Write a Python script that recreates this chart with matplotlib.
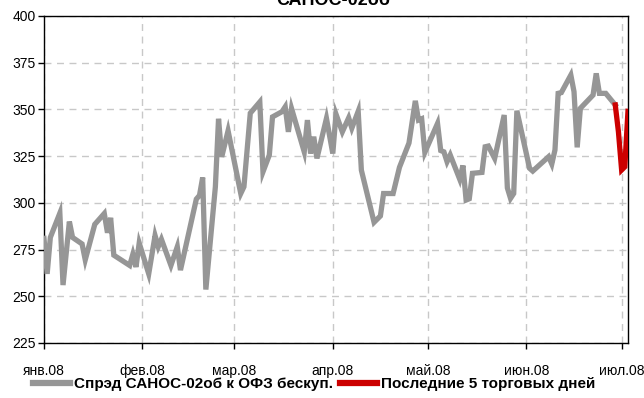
import numpy as np
import pandas as pd
import matplotlib
matplotlib.use("Agg")
import matplotlib.pyplot as plt
from matplotlib.lines import Line2D

plt.rcParams['font.family'] = ['Liberation Sans', 'DejaVu Sans']

# spread data
spread_dates = [
    "2008-01-01", "2008-01-02", "2008-01-03", "2008-01-06", "2008-01-07", "2008-01-09",
    "2008-01-10", "2008-01-13", "2008-01-14", "2008-01-17", "2008-01-20", "2008-01-21",
    "2008-01-22", "2008-01-23", "2008-01-28", "2008-01-29", "2008-01-30", "2008-01-31",
    "2008-02-03", "2008-02-05", "2008-02-06", "2008-02-07", "2008-02-10", "2008-02-12",
    "2008-02-13", "2008-02-18", "2008-02-19", "2008-02-20", "2008-02-21", "2008-02-24",
    "2008-02-25", "2008-02-26", "2008-02-28", "2008-03-03", "2008-03-04", "2008-03-06",
    "2008-03-09", "2008-03-10", "2008-03-12", "2008-03-13", "2008-03-16", "2008-03-17",
    "2008-03-18", "2008-03-19", "2008-03-23", "2008-03-24", "2008-03-25", "2008-03-26",
    "2008-03-27", "2008-03-30", "2008-04-01", "2008-04-02", "2008-04-04", "2008-04-06",
    "2008-04-07", "2008-04-09", "2008-04-10", "2008-04-14", "2008-04-16", "2008-04-17",
    "2008-04-20", "2008-04-22", "2008-04-25", "2008-04-27", "2008-04-28", "2008-04-29",
    "2008-04-30", "2008-05-04", "2008-05-05", "2008-05-06", "2008-05-07", "2008-05-08",
    "2008-05-11", "2008-05-12", "2008-05-13", "2008-05-14", "2008-05-15", "2008-05-18",
    "2008-05-19", "2008-05-20", "2008-05-22", "2008-05-25", "2008-05-26", "2008-05-27",
    "2008-05-28", "2008-05-29", "2008-06-02", "2008-06-03", "2008-06-08", "2008-06-09",
    "2008-06-10", "2008-06-11", "2008-06-12", "2008-06-15", "2008-06-16", "2008-06-17",
    "2008-06-18", "2008-06-22", "2008-06-23", "2008-06-24", "2008-06-26", "2008-06-29",
]
spread_values = [
    281, 262, 281.5, 294.5, 256, 290,
    281.5, 278, 269.5, 288.5, 294.3, 284,
    292, 272, 266.5, 272.5, 265.7, 278.5,
    262, 282.5, 276.5, 280.5, 266.5, 276.5,
    264, 302, 304, 313.6, 253.6, 308.6,
    345, 324.6, 338.6, 305, 308.6, 348,
    354, 316.6, 325.6, 346, 348.8, 351.4,
    338, 350.5, 327.3, 344.3, 326.4, 335.4,
    323.8, 345.2, 326.4, 347.5, 338, 345.5,
    340, 349, 317.5, 289.6, 293, 305,
    305, 319, 332, 354.6, 344.3, 345,
    327, 342.5, 328, 327.3, 322, 325.6,
    312.6, 320, 301.5, 302.2, 315.8, 316.3,
    330, 330.4, 323.8, 347, 308, 302.4,
    305, 349.3, 318.5, 317, 324.7, 320.8,
    328.3, 358.6, 359, 368.4, 359.5, 329.7,
    350.6, 357.7, 369.3, 358.6, 358.6, 352.4,
]

# last 5 trading days
last_dates = ["2008-06-29", "2008-06-30", "2008-07-01", "2008-07-02", "2008-07-03"]
last_values = [352.4, 338, 317.6, 319.3, 349]

month_labels = ["янв.08", "фев.08", "мар.08", "апр.08", "май.08", "июн.08", "июл.08"]
month_ticks = ["2008-01-01", "2008-02-01", "2008-03-01", "2008-04-01",
               "2008-05-01", "2008-06-01", "2008-07-01"]

gray = "#969696"
red = "#CC0000"

fig = plt.figure(figsize=(6.44, 3.98), dpi=100)
ax = fig.add_axes([0.0683, 0.1382, 0.9068, 0.8216])

ax.plot(pd.to_datetime(spread_dates), spread_values, color=gray, lw=3.8,
        solid_joinstyle='miter', zorder=3)
ax.plot(pd.to_datetime(last_dates), last_values, color=red, lw=3.8,
        solid_joinstyle='miter', zorder=4)

ax.set_ylim(225, 400)
ax.set_yticks(np.arange(225, 401, 25))
ax.set_xlim(pd.Timestamp("2008-01-01"), pd.Timestamp("2008-07-03"))
ax.set_xticks(pd.to_datetime(month_ticks))
ax.set_xticklabels(month_labels)

ax.grid(True, color="#c8c8c8", linestyle=(0, (5, 4)), linewidth=1.0, zorder=0)
ax.tick_params(axis='both', direction='out', length=4, width=1, labelsize=10, colors='black')
ax.tick_params(axis='x', pad=11)
ax.tick_params(axis='y', pad=2)
for s in ax.spines.values():
    s.set_linewidth(1.0)
    s.set_color('black')

# title sits mostly above the figure, like the original
fig.text(0.517, 0.987, "САНОС-02об", ha='center', va='baseline',
         fontsize=13, fontweight='bold')

handles = [Line2D([], [], color=gray, lw=4.5),
           Line2D([], [], color=red, lw=4.5)]
fig.legend(handles, ["Спрэд САНОС-02об к ОФЗ бескуп.", "Последние 5 торговых дней"],
           loc='center', bbox_to_anchor=(0.488, 1 - 384 / 398), ncol=2, frameon=False,
           prop={'weight': 'bold', 'size': 11}, handlelength=2.4, handletextpad=0.25,
           columnspacing=0.5, borderpad=0)

fig.savefig("out.png", dpi=100)
